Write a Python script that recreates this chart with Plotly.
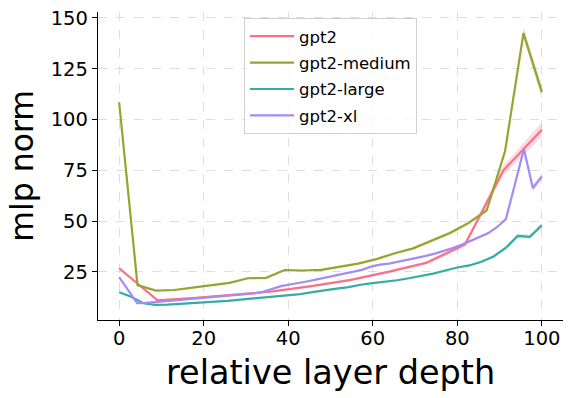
import plotly.graph_objects as go

series_names = ["gpt2", "gpt2-medium", "gpt2-large", "gpt2-xl"]
colors = ["#f77189", "#97a431", "#36ada4", "#a48cf4"]
band_colors = ["rgba(247,113,137,0.25)", "rgba(151,164,49,0.25)",
               "rgba(54,173,164,0.25)", "rgba(164,140,244,0.25)"]

# number of layers per model (x = relative depth 0..100)
n_layers = [12, 24, 36, 48]

gpt2_vals = [26.8, 11.0, 12.3, 13.8, 15.4, 18.0, 21.0, 25.0, 29.5, 38.5, 75.0, 95.0]
gpt2_err = [0.6, 0.4, 0.4, 0.4, 0.4, 0.5, 0.5, 0.6, 0.8, 1.2, 2.5, 3.5]

medium_vals = [108.5, 18.5, 15.8, 16.1, 17.3, 18.5, 19.6, 21.9, 22.1, 25.9,
               25.7, 26.0, 27.5, 29.1, 31.3, 34.2, 36.6, 40.4, 44.2, 49.0,
               55.3, 84.5, 142.5, 113.5]
medium_err = [0.8, 0.4, 0.3, 0.3, 0.3, 0.3, 0.3, 0.3, 0.3, 0.4,
              0.4, 0.4, 0.4, 0.4, 0.5, 0.5, 0.6, 0.7, 0.8, 0.9,
              1.0, 1.5, 2.8, 3.0]

large_vals = [15.0, 12.8, 9.6, 8.8, 8.9, 9.2, 9.6, 10.0, 10.4, 10.8,
              11.3, 11.8, 12.3, 12.9, 13.4, 14.1, 15.1, 16.1, 16.8, 17.5,
              18.7, 19.5, 20.1, 20.9, 21.9, 22.9, 24.2, 25.7, 27.2, 28.2,
              30.0, 32.6, 36.8, 42.7, 42.3, 48.0]
large_err = [0.3] * 28 + [0.4, 0.4, 0.5, 0.6, 0.7, 1.0, 1.0, 1.2]

xl_vals = [22.4, 16.0, 9.6, 9.8, 10.2, 10.6, 11.0, 11.3, 11.7, 12.0,
           12.4, 12.8, 13.1, 13.5, 13.9, 14.4, 15.2, 16.6, 18.0, 18.8,
           19.5, 20.4, 21.3, 22.3, 23.2, 24.1, 25.2, 26.0, 27.6, 28.6,
           29.1, 30.0, 30.9, 31.7, 32.8, 33.9, 35.2, 36.6, 38.2, 40.0,
           41.8, 44.0, 47.0, 51.0, 68.0, 85.5, 66.2, 72.0]
xl_err = [0.3] * 40 + [0.4, 0.5, 0.6, 0.8, 1.2, 2.0, 1.8, 1.6]

all_vals = [gpt2_vals, medium_vals, large_vals, xl_vals]
all_err = [gpt2_err, medium_err, large_err, xl_err]

x_ticks = [0, 20, 40, 60, 80, 100]
y_ticks = [25, 50, 75, 100, 125, 150]
x_range = [-5, 105]
y_range = [1.35, 152.9]

fig = go.Figure()
for name, col, bcol, n, vals, err in zip(series_names, colors, band_colors,
                                          n_layers, all_vals, all_err):
    xs = [i * 100.0 / (n - 1) for i in range(n)]
    upper = [v + e for v, e in zip(vals, err)]
    lower = [v - e for v, e in zip(vals, err)]
    fig.add_trace(go.Scatter(x=xs + xs[::-1], y=upper + lower[::-1],
                             fill="toself", fillcolor=bcol,
                             line=dict(width=0), mode="lines",
                             hoverinfo="skip", showlegend=False,
                             legendgroup=name))
for name, col, bcol, n, vals, err in zip(series_names, colors, band_colors,
                                          n_layers, all_vals, all_err):
    xs = [i * 100.0 / (n - 1) for i in range(n)]
    fig.add_trace(go.Scatter(x=xs, y=vals, mode="lines", name=name,
                             line=dict(color=col, width=2.2),
                             legendgroup=name))

# empty trace on an overlay x-axis that only draws the tick marks
fig.add_trace(go.Scatter(x=[], y=[], xaxis="x2", showlegend=False,
                         hoverinfo="skip"))

font_family = "DejaVu Sans"
# page body has an 8px default margin, so the figure is sized/offset to compensate
fig.update_layout(
    width=565, height=390,
    margin=dict(l=90, r=10, t=4, b=78, autoexpand=False),
    paper_bgcolor="white", plot_bgcolor="white",
    font=dict(family=font_family, color="black"),
    legend=dict(x=0.314, y=0.981, xanchor="left", yanchor="top",
                font=dict(size=16.5, color="black"),
                bordercolor="#d0d0d0", borderwidth=1,
                bgcolor="rgba(255,255,255,0.8)", itemwidth=44,
                tracegroupgap=2, traceorder="grouped"),
    xaxis=dict(range=x_range, tickvals=x_ticks,
               ticktext=[str(t) for t in x_ticks], automargin=False,
               showgrid=True, gridcolor="#dedede", griddash="dash", gridwidth=1,
               showline=True, linecolor="black", linewidth=1.3,
               ticks="", ticklabeloverflow="allow",
               tickfont=dict(size=19.5), zeroline=False),
    xaxis2=dict(range=x_range, tickvals=x_ticks, overlaying="x", anchor="y",
                side="bottom", showticklabels=False, showgrid=False,
                showline=False, zeroline=False, automargin=False,
                ticks="outside", ticklen=5, tickwidth=1.3, tickcolor="black"),
    yaxis=dict(range=y_range, tickvals=y_ticks,
               ticktext=[str(t) for t in y_ticks], automargin=False,
               showgrid=True, gridcolor="#dedede", griddash="dash", gridwidth=1,
               showline=True, linecolor="black", linewidth=1.3,
               ticks="outside", ticklen=5, tickwidth=1.3, tickcolor="black",
               ticklabeloverflow="allow",
               tickfont=dict(size=19.5), zeroline=False),
    annotations=[
        dict(text="relative layer depth", xref="paper", yref="paper",
             x=0.5, y=-0.170, xanchor="center", yanchor="middle",
             showarrow=False, font=dict(size=33.5, color="black")),
        dict(text="mlp norm", xref="paper", yref="paper",
             x=-0.164, y=0.5, xanchor="center", yanchor="middle",
             textangle=-90, showarrow=False,
             font=dict(size=31.5, color="black")),
    ],
)

fig.write_html("out.html")
